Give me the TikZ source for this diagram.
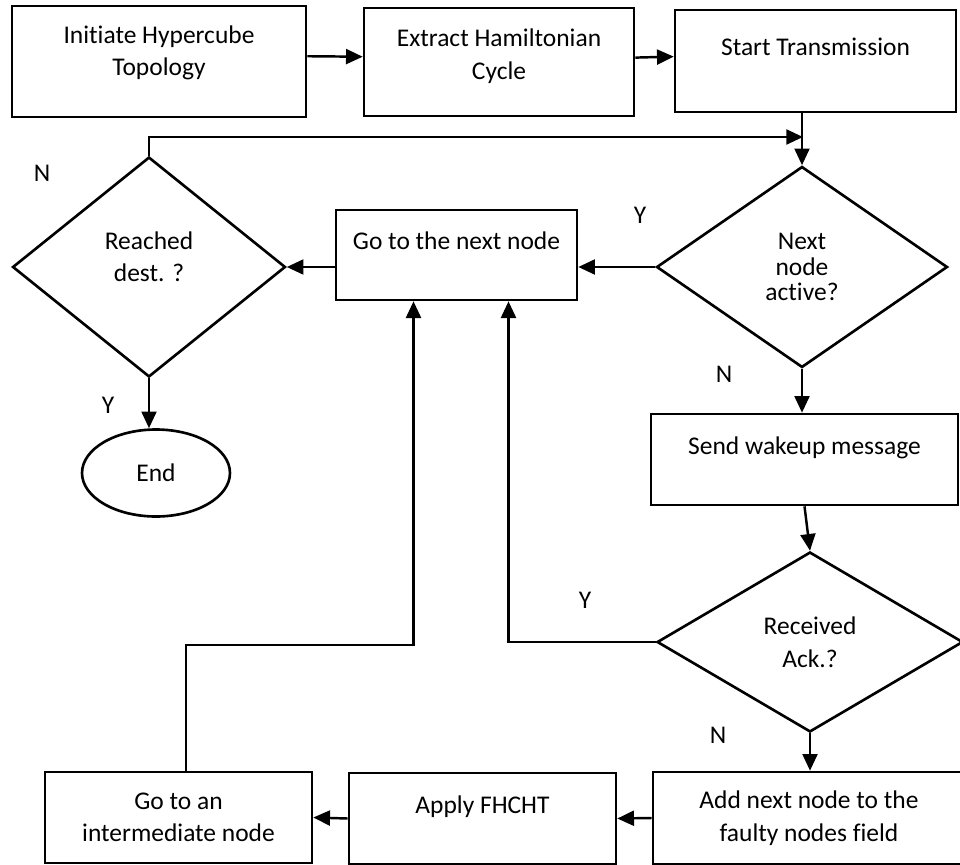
\documentclass[tikz,border=0pt]{standalone}
\usepackage{fontspec}
\setmainfont{Carlito}[Ligatures={NoCommon,NoContextual}]
\usetikzlibrary{arrows.meta,shapes.geometric,calc}
\tikzset{
  box/.style={rectangle,draw=black,line width=1.5pt,align=center,inner sep=2pt},
  raised/.style={text depth=16pt},
  decision/.style={diamond,draw=black,line width=1.5pt,align=center,inner sep=0pt},
  terminal/.style={ellipse,draw=black,line width=1.5pt,inner sep=0pt},
  arr/.style={line width=1.4pt,-{Triangle[length=9.5pt,width=8.5pt]}},
  yn/.style={inner sep=0pt}
}
\begin{document}
\begin{tikzpicture}[x=0.02cm, y=-0.02cm, font=\fontsize{14.5pt}{18.5pt}\selectfont]
        \useasboundingbox (0,0) rectangle (960,865);
        \node [box, text depth=12.5pt, minimum width=5.88cm, minimum height=2.22cm] (init) at (159, 61.5) {Initiate Hypercube\\Topology};
        \node [box, text depth=9pt, minimum width=5.4cm, minimum height=2.16cm] (extract) at (499, 62) {Extract Hamiltonian\\Cycle};
        \node [box, raised, minimum width=5.62cm, minimum height=2.04cm] (start) at (815.5, 61) {Start Transmission};
        \node [decision, text depth=11.5pt, minimum width=5.46cm, minimum height=4.4cm] (reached) at (149, 267) {Reached\\dest. ?};
        \node [box, raised, minimum width=4.82cm, minimum height=1.8cm] (gonext) at (456.5, 255) {Go to the next node};
        \node [decision, minimum width=5.82cm, minimum height=4.02cm] (active) at (802, 267) {Next\\[-4pt]node\\[-4pt]active?};
        \node [terminal, minimum width=2.96cm, minimum height=1.74cm] (endn) at (156, 473) {End};
        \node [box, raised, minimum width=6.14cm, minimum height=1.82cm] (send) at (804.5, 459.5) {Send wakeup message};
        \node [decision, minimum width=6.12cm, minimum height=3.6cm] (received) at (810, 642) {Received\\Ack.?};
        \node [box, minimum width=6.24cm, minimum height=1.84cm] (add) at (809, 818) {Add next node to the\\faulty nodes field};
        \node [box, raised, minimum width=5.34cm, minimum height=1.82cm] (fhcht) at (482.5, 818.5) {Apply FHCHT};
        \node [box, minimum width=5.34cm, minimum height=1.82cm] (inter) at (178.5, 817.5) {Go to an\\intermediate node};
        \node [yn] (n1) at (42, 173) {N};
        \node [yn] (y1) at (640, 215) {Y};
        \node [yn] (n2) at (724, 374) {N};
        \node [yn] (y2) at (108, 405) {Y};
        \node [yn] (y3) at (585, 600) {Y};
        \node [yn] (n3) at (718, 735) {N};
        \coordinate (loop) at (803, 137);
        \coordinate (turn) at (186, 645);
        \draw [arr] ([yshift=3pt]init.east) to ([yshift=3pt]extract.west);
        \draw [arr] ([yshift=2.5pt]extract.east) to ([yshift=2.5pt]start.west);
        \draw [arr] (active.north |- start.south) to (active.north);
        \draw [arr] (reached.north) |- (loop);
        \draw [arr] (gonext.west |- reached.east) to (reached.east);
        \draw [arr] (active.west) to (active.west -| gonext.east);
        \draw [arr] (reached.south) to (reached.south |- endn.north);
        \draw [arr] (active.south) to (active.south |- send.north);
        \draw [arr] (send.south) to (received.north);
        \draw [arr] (received.west) -| ($(gonext.south)+(52,0)$);
        \draw [arr] (received.south) to (received.south |- add.north);
        \draw [arr] (add.west) to (fhcht.east);
        \draw [arr] (fhcht.west) to (inter.east);
        \draw [arr] (turn |- inter.north) -- (turn) -| ($(gonext.south)+(-43,0)$);
\end{tikzpicture}
\end{document}
